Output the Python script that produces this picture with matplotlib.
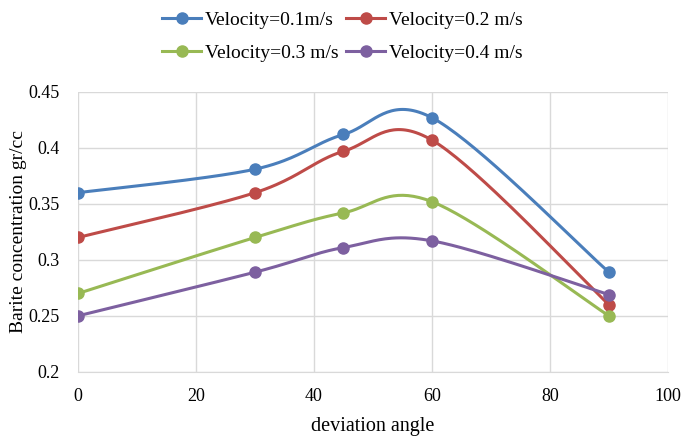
import numpy as np
import matplotlib.pyplot as plt

plt.rcParams["font.family"] = ["Liberation Serif", "DejaVu Serif"]

angles = [0, 30, 45, 60, 90]
v01 = [0.36, 0.381, 0.412, 0.427, 0.289]
v02 = [0.32, 0.36, 0.397, 0.407, 0.26]
v03 = [0.27, 0.32, 0.342, 0.352, 0.25]
v04 = [0.25, 0.289, 0.311, 0.317, 0.269]
labels = ["Velocity=0.1m/s", "Velocity=0.2 m/s", "Velocity=0.3 m/s", "Velocity=0.4 m/s"]
colors = ["#4A7EBB", "#BE4B48", "#98B954", "#7D60A0"]


def smooth(x, y, n=40):
    # Excel-style smoothed line: cubic Bezier with 1/6 neighbour tangents
    x = np.asarray(x, float)
    y = np.asarray(y, float)
    px = np.concatenate([[x[0]], x, [x[-1]]])
    py = np.concatenate([[y[0]], y, [y[-1]]])
    t = np.linspace(0, 1, n)[:, None]
    xs, ys = [], []
    for i in range(1, len(px) - 2):
        p0 = np.array([px[i], py[i]])
        p3 = np.array([px[i + 1], py[i + 1]])
        c1 = p0 + (np.array([px[i + 1], py[i + 1]]) - np.array([px[i - 1], py[i - 1]])) / 6
        c2 = p3 - (np.array([px[i + 2], py[i + 2]]) - np.array([px[i], py[i]])) / 6
        pts = ((1 - t) ** 3) * p0 + 3 * ((1 - t) ** 2) * t * c1 + 3 * (1 - t) * t ** 2 * c2 + t ** 3 * p3
        xs.append(pts[:, 0])
        ys.append(pts[:, 1])
    return np.concatenate(xs), np.concatenate(ys)


fig = plt.figure(figsize=(6.85, 4.4), dpi=100)
ax = fig.add_axes([0.114, 0.155, 0.861, 0.636])

handles = []
for vals, lab, c in zip([v01, v02, v03, v04], labels, colors):
    sx, sy = smooth(angles, vals)
    ax.plot(sx, sy, color=c, lw=2.2, zorder=3)
    ax.plot(angles, vals, "o", color=c, ms=8, zorder=4)
    h, = ax.plot([], [], "-o", color=c, lw=2.2, ms=8, label=lab)
    handles.append(h)

ax.set_xlim(0, 100)
ax.set_ylim(0.2, 0.45)
ax.set_xticks([0, 20, 40, 60, 80, 100])
ax.set_yticks([0.2, 0.25, 0.3, 0.35, 0.4, 0.45])
ax.set_yticklabels(["0.2", "0.25", "0.3", "0.35", "0.4", "0.45"])
ax.grid(True, color="#D9D9D9", lw=1)
ax.set_axisbelow(True)
for s in ["top", "right", "left"]:
    ax.spines[s].set_visible(False)
ax.spines["bottom"].set_color("#D9D9D9")
ax.tick_params(axis="y", length=0, labelsize=13, pad=13)
ax.tick_params(axis="x", length=0, labelsize=13, pad=12)
ax.set_xlabel("deviation angle", fontsize=14.5, labelpad=8)
ax.set_ylabel("Barite concentration gr/cc", fontsize=14, labelpad=1.5)

# column-wise fill: 0.1 / 0.3 in first column, 0.2 / 0.4 in second
order = [0, 2, 1, 3]
fig.legend([handles[i] for i in order], [labels[i] for i in order],
           loc="upper center", bbox_to_anchor=(0.5, 1.015), ncol=2, frameon=False,
           fontsize=14, handlelength=2.0, columnspacing=0.4, handletextpad=0.2,
           labelspacing=0.8)

fig.savefig("out.png", dpi=100)
